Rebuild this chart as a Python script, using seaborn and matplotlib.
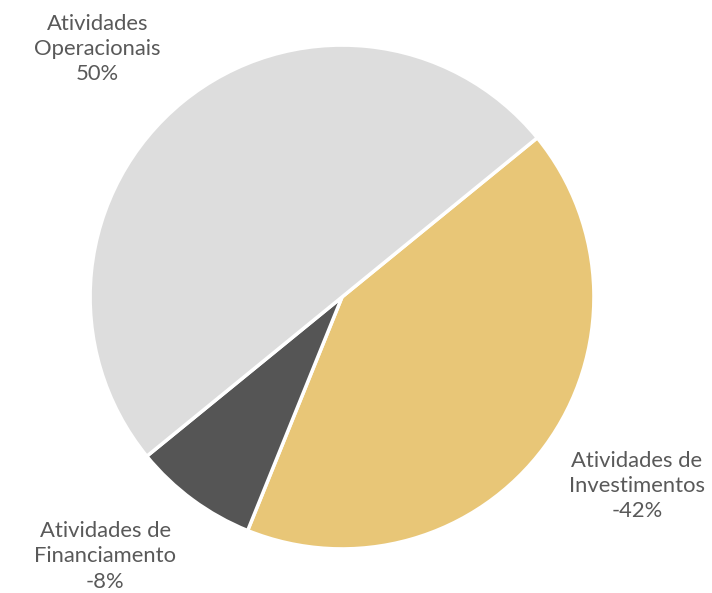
import matplotlib
matplotlib.use("Agg")
import matplotlib.pyplot as plt
import seaborn as sns

# dados
categorias = ['Atividades de\nInvestimentos', 'Atividades de\nFinanciamento', 'Atividades\nOperacionais']
valores = [42, 8, 50]
rotulos_pct = ['-42%', '-8%', '50%']
cores = ['#E8C677', '#555555', '#DDDDDD']

sns.set_theme(style='white')
plt.rcParams['font.family'] = ['Lato', 'DejaVu Sans']

fig = plt.figure(figsize=(7.12, 5.93), dpi=100)
ax = fig.add_axes([0, 0, 1, 1])

ax.pie(valores, colors=cores, startangle=39.2, counterclock=False,
       radius=1, wedgeprops=dict(edgecolor='white', linewidth=2.5))

# posicao dos rotulos (em unidades do raio)
pos_rotulos = [(1.17, -0.75), (-0.94, -1.03), (-0.97, 0.985)]
for cat, pct, (x, y) in zip(categorias, rotulos_pct, pos_rotulos):
    ax.text(x, y, cat + '\n' + pct, ha='center', va='center',
            fontsize=15.8, color='#595959', linespacing=1.32)

ax.set_xlim(-1.357, 1.468)
ax.set_ylim(-1.175, 1.179)
ax.set_aspect('equal')
ax.axis('off')

fig.savefig('out.png', dpi=100)
